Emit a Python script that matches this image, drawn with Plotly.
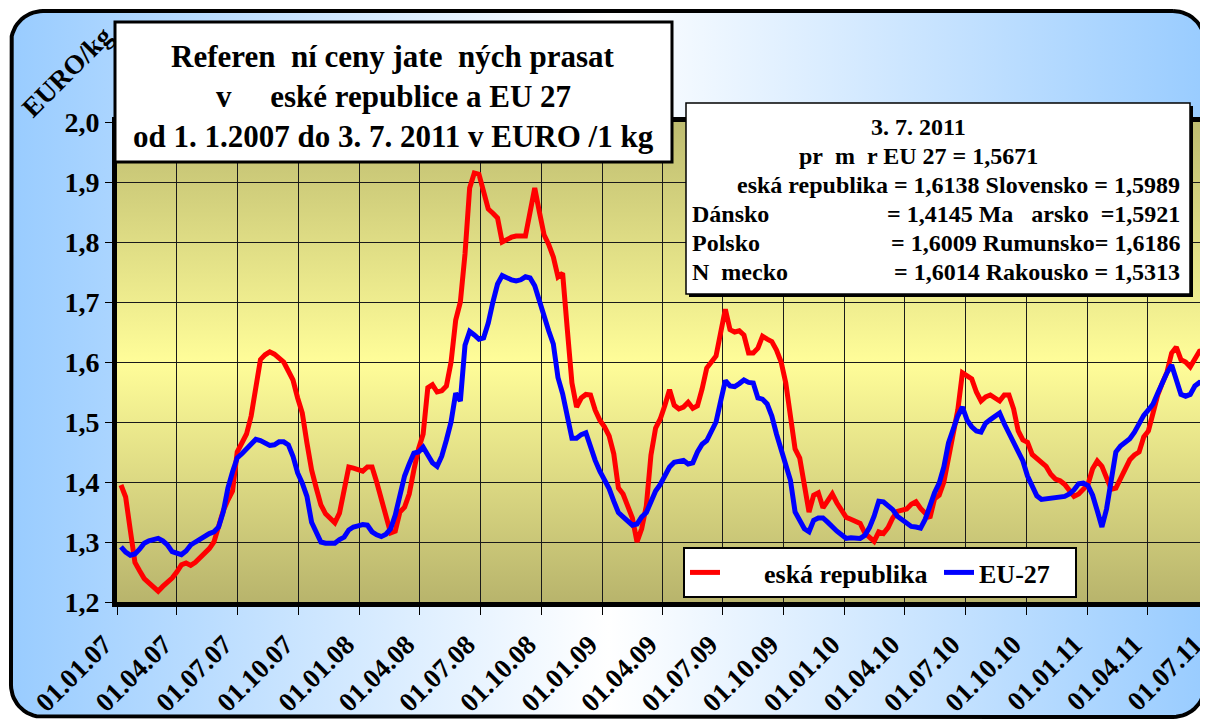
"""
Reference prices of slaughter pigs, Czech Republic vs EU 27, 2007-2011.
"""

import numpy as np
import pandas as pd
import plotly.graph_objects as go

# the page body adds an 8px margin, so the figure is drawn 8px smaller
OFF = 8
W, H = 1208 - OFF, 722 - OFF

# weekly prices (EURO / kg), first week ends 7.1.2007, last 3.7.2011
weeks = pd.date_range("2007-01-07", periods=235, freq="7D")

cz_prices = [
    1.395, 1.375, 1.32, 1.266, 1.252, 1.239, 1.232, 1.225, 1.218, 1.226,
    1.233, 1.24, 1.25, 1.262, 1.265, 1.261, 1.266, 1.274, 1.282, 1.289,
    1.30, 1.33, 1.352, 1.37, 1.385, 1.45, 1.465, 1.48, 1.51, 1.56,
    1.604, 1.612, 1.617, 1.613, 1.607, 1.60, 1.585, 1.57, 1.54, 1.515,
    1.465, 1.42, 1.39, 1.362, 1.347, 1.34, 1.332, 1.348, 1.39, 1.425,
    1.423, 1.421, 1.418, 1.425, 1.425, 1.40, 1.37, 1.345, 1.315, 1.318,
    1.35, 1.358, 1.38, 1.42, 1.455, 1.48, 1.557, 1.562, 1.55, 1.552,
    1.56, 1.60, 1.67, 1.70, 1.78, 1.89, 1.915, 1.913, 1.88, 1.855,
    1.848, 1.84, 1.80, 1.805, 1.808, 1.81, 1.81, 1.81, 1.85, 1.89,
    1.85, 1.812, 1.796, 1.775, 1.742, 1.748, 1.655, 1.565, 1.525, 1.54,
    1.546, 1.545, 1.52, 1.503, 1.492, 1.477, 1.447, 1.39, 1.38, 1.36,
    1.34, 1.30, 1.322, 1.36, 1.445, 1.49, 1.505, 1.528, 1.554, 1.528,
    1.522, 1.525, 1.533, 1.523, 1.527, 1.555, 1.59, 1.60, 1.61, 1.649,
    1.688, 1.654, 1.65, 1.652, 1.645, 1.615, 1.615, 1.623, 1.643, 1.638,
    1.634, 1.62, 1.60, 1.565, 1.505, 1.455, 1.44, 1.39, 1.35, 1.378,
    1.382, 1.357, 1.367, 1.38, 1.365, 1.353, 1.341, 1.338, 1.335, 1.331,
    1.315, 1.307, 1.301, 1.317, 1.314, 1.324, 1.34, 1.351, 1.352, 1.355,
    1.363, 1.367, 1.356, 1.348, 1.34, 1.372, 1.378, 1.40, 1.44, 1.475,
    1.52, 1.582, 1.576, 1.572, 1.55, 1.535, 1.542, 1.545, 1.54, 1.535,
    1.545, 1.545, 1.522, 1.485, 1.47, 1.466, 1.446, 1.44, 1.434, 1.426,
    1.413, 1.405, 1.402, 1.396, 1.386, 1.376, 1.38, 1.388, 1.396, 1.422,
    1.435, 1.426, 1.405, 1.388, 1.39, 1.405, 1.422, 1.437, 1.445, 1.45,
    1.475, 1.485, 1.515, 1.545, 1.565, 1.583, 1.615, 1.625, 1.604, 1.60,
    1.592, 1.607, 1.618, 1.62, 1.614,
]

eu_prices = [
    1.292, 1.283, 1.278, 1.28, 1.288, 1.298, 1.302, 1.305, 1.306, 1.302,
    1.295, 1.284, 1.281, 1.279, 1.285, 1.295, 1.30, 1.305, 1.309, 1.314,
    1.317, 1.325, 1.35, 1.39, 1.417, 1.44, 1.447, 1.455, 1.465, 1.471,
    1.469, 1.465, 1.461, 1.462, 1.467, 1.467, 1.462, 1.443, 1.415, 1.398,
    1.376, 1.333, 1.317, 1.30, 1.298, 1.298, 1.298, 1.304, 1.308, 1.32,
    1.325, 1.327, 1.329, 1.328, 1.317, 1.312, 1.309, 1.313, 1.322, 1.345,
    1.38, 1.41, 1.43, 1.448, 1.45, 1.458, 1.445, 1.432, 1.426, 1.443,
    1.47, 1.50, 1.548, 1.535, 1.628, 1.651, 1.645, 1.638, 1.64, 1.665,
    1.70, 1.73, 1.744, 1.74, 1.737, 1.735, 1.737, 1.742, 1.74, 1.727,
    1.70, 1.675, 1.652, 1.63, 1.574, 1.547, 1.51, 1.473, 1.473, 1.479,
    1.482, 1.458, 1.436, 1.418, 1.403, 1.389, 1.368, 1.349, 1.342, 1.336,
    1.328, 1.33, 1.342, 1.349, 1.37, 1.385, 1.396, 1.41, 1.425, 1.433,
    1.435, 1.436, 1.43, 1.432, 1.45, 1.463, 1.469, 1.485, 1.50, 1.535,
    1.569, 1.56, 1.559, 1.564, 1.57, 1.566, 1.565, 1.54, 1.538, 1.53,
    1.51, 1.48, 1.452, 1.425, 1.403, 1.35, 1.337, 1.322, 1.317, 1.336,
    1.34, 1.34, 1.333, 1.325, 1.318, 1.312, 1.306, 1.307, 1.306, 1.306,
    1.311, 1.324, 1.343, 1.368, 1.367, 1.36, 1.354, 1.343, 1.337, 1.332,
    1.326, 1.325, 1.323, 1.338, 1.362, 1.382, 1.398, 1.425, 1.465, 1.488,
    1.51, 1.525, 1.503, 1.492, 1.485, 1.483, 1.498, 1.504, 1.51, 1.515,
    1.497, 1.482, 1.465, 1.454, 1.435, 1.41, 1.392, 1.377, 1.371, 1.372,
    1.372, 1.372, 1.375, 1.376, 1.38, 1.387, 1.397, 1.398, 1.394, 1.378,
    1.352, 1.325, 1.355, 1.407, 1.45, 1.46, 1.467, 1.472, 1.483, 1.499,
    1.511, 1.52, 1.53, 1.548, 1.566, 1.582, 1.595, 1.57, 1.546, 1.543,
    1.546, 1.56, 1.566, 1.565, 1.567,
]

tick_dates = pd.date_range("2007-01-01", "2011-07-01", freq="QS")
tick_labels = [
    "01.01.07", "01.04.07", "01.07.07", "01.10.07",
    "01.01.08", "01.04.08", "01.07.08", "01.10.08",
    "01.01.09", "01.04.09", "01.07.09", "01.10.09",
    "01.01.10", "01.04.10", "01.07.10", "01.10.10",
    "01.01.11", "01.04.11", "01.07.11",
]

series_names = [
    "\u200b" + "\u00a0" * 6 + "eská republika\u00a0",
    "EU-27\u00a0\u00a0\u00a0\u200b",
]
series_colors = ["#FF0000", "#0000FF"]

title_lines = [
    "Referen\u00a0 ní ceny jate\u00a0 ných prasat",
    "v\u00a0\u00a0\u00a0\u00a0 eské republice a EU 27",
    "od 1. 1.2007 do 3. 7. 2011 v EURO /1 kg",
]
info_center = ["3. 7. 2011", "pr\u00a0\u00a0m\u00a0\u00a0r EU 27 = 1,5671"]
info_left = ["", "Dánsko", "Polsko", "N\u00a0\u00a0mecko"]
info_right = [
    "eská republika = 1,6138 Slovensko = 1,5989",
    "= 1,4145 Ma\u00a0\u00a0\u00a0arsko\u00a0 =1,5921",
    "= 1,6009 Rumunsko= 1,6186",
    "= 1,6014 Rakousko = 1,5313",
]

FONT = "Liberation Serif"

# plot area in page pixels
PL, PR, PT, PB = 117, 1208, 122, 602


def rounded_rect(x0, y0, x1, y1, r, n=16):
    """Closed polygon of a rounded rectangle (pixel coords, y down)."""
    xs, ys = [], []
    corners = [
        (x1 - r, y0 + r, -np.pi / 2, 0),
        (x1 - r, y1 - r, 0, np.pi / 2),
        (x0 + r, y1 - r, np.pi / 2, np.pi),
        (x0 + r, y0 + r, np.pi, 1.5 * np.pi),
    ]
    for cx, cy, a0, a1 in corners:
        t = np.linspace(a0, a1, n)
        xs.extend(cx + r * np.cos(t))
        ys.extend(cy + r * np.sin(t))
    xs.append(xs[0])
    ys.append(ys[0])
    return xs, ys


def bold(size):
    return dict(family=FONT, size=size, color="black", weight="bold")


fig = go.Figure()

# chart background with horizontal gradient and rounded black border
bx, by = rounded_rect(11, 11, 1205, 717, 32)
fig.add_trace(go.Scatter(
    x=bx, y=by, xaxis="x", yaxis="y", mode="lines", fill="toself",
    fillgradient=dict(type="horizontal", colorscale=[
        [0, "#99CCFF"], [0.5, "#FFFFFF"], [1, "#99CCFF"]]),
    line=dict(color="black", width=4), hoverinfo="skip", showlegend=False,
))

# plot area with vertical olive-yellow gradient
fig.add_trace(go.Scatter(
    x=[0, 1, 1, 0, 0], y=[0, 0, 1, 1, 0], xaxis="x2", yaxis="y2",
    mode="lines", fill="toself",
    fillgradient=dict(type="vertical", colorscale=[
        [0, "#B8B46C"], [0.5, "#FFFD99"], [1, "#BEBC70"]]),
    line=dict(width=0), hoverinfo="skip", showlegend=False,
))

for name, vals, color in zip(series_names, [cz_prices, eu_prices],
                             series_colors):
    fig.add_trace(go.Scatter(
        x=weeks, y=vals, xaxis="x3", yaxis="y3", mode="lines", name=name,
        line=dict(color=color, width=5),
    ))

dom_x = [(PL - OFF) / W, (PR - OFF) / W]
dom_y = [(H + OFF - PB) / H, (H + OFF - PT) / H]

shapes = [
    # title box
    dict(type="rect", xref="x", yref="y", x0=115, y0=22, x1=672, y1=162,
         fillcolor="white", line=dict(color="black", width=3), layer="above"),
    # info box shadow + box
    dict(type="rect", xref="x", yref="y", x0=689, y0=106, x1=1193, y1=297,
         fillcolor="black", line=dict(width=0), layer="above"),
    dict(type="rect", xref="x", yref="y", x0=686, y0=103, x1=1190, y1=294,
         fillcolor="white", line=dict(color="black", width=1.5),
         layer="above"),
]

annotations = []
for i, line in enumerate(title_lines):
    annotations.append(dict(
        xref="x", yref="y", x=393, y=56 + 40 * i, text=line,
        showarrow=False, font=bold(31)))

for i, line in enumerate(info_center):
    annotations.append(dict(
        xref="x", yref="y", x=918, y=127 + 29 * i, text=line,
        showarrow=False, font=bold(24)))

for i, (lt, rt) in enumerate(zip(info_left, info_right)):
    yy = 185 + 29 * i
    if lt:
        annotations.append(dict(
            xref="x", yref="y", x=690, y=yy, text=lt, xanchor="left",
            showarrow=False, font=bold(24)))
    annotations.append(dict(
        xref="x", yref="y", x=1182, y=yy, text=rt, xanchor="right",
        showarrow=False, font=bold(24)))

annotations.append(dict(
    xref="x", yref="y", x=67, y=72, text="EURO/kg", textangle=-45,
    showarrow=False, font=bold(27)))

fig.update_layout(
    width=W, height=H, autosize=False,
    margin=dict(l=0, r=0, t=0, b=0, pad=0),
    paper_bgcolor="white", plot_bgcolor="rgba(0,0,0,0)",
    separators=", ",
    # page-pixel coordinate system for the decorations
    xaxis=dict(domain=[0, 1], range=[OFF, OFF + W], visible=False),
    yaxis=dict(domain=[0, 1], range=[OFF + H, OFF], visible=False),
    xaxis2=dict(domain=dom_x, range=[0, 1], visible=False, anchor="y2"),
    yaxis2=dict(domain=dom_y, range=[0, 1], visible=False, anchor="x2"),
    xaxis3=dict(
        domain=dom_x, anchor="y3", type="date", automargin=False,
        range=["2007-01-01", "2011-07-01 18:00"],
        tickmode="array", tickvals=tick_dates, ticktext=tick_labels,
        tickangle=-45, ticks="outside", ticklen=8, tickcolor="black",
        tickwidth=1, tickfont=bold(27), ticklabeloverflow="allow",
        ticklabelshift=-13, ticklabelstandoff=3,
        showgrid=True, gridcolor="#1a1a1a", gridwidth=1,
        showline=True, linecolor="black", linewidth=5, mirror=True,
        zeroline=False,
    ),
    yaxis3=dict(
        domain=dom_y, anchor="x3", range=[1.2, 2.0], dtick=0.1,
        automargin=False,
        tickformat=".1f", ticks="outside", ticklen=7, tickcolor="black",
        tickwidth=1, tickfont=bold(28),
        showgrid=True, gridcolor="#1a1a1a", gridwidth=1,
        showline=True, linecolor="black", linewidth=5, mirror=False,
        zeroline=False,
    ),
    legend=dict(
        orientation="h", x=(683 - OFF) / W, y=1 - (547 - OFF) / H,
        xanchor="left", yanchor="top", bgcolor="white",
        bordercolor="black", borderwidth=2, font=bold(26),
    ),
    shapes=shapes,
    annotations=annotations,
)

fig.write_html("out.html")
